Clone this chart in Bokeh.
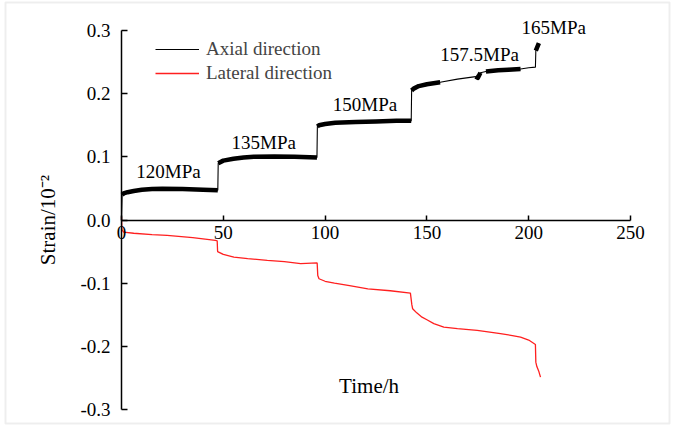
import math
from bokeh.plotting import figure
from bokeh.models import (FixedTicker, Label, Legend, LegendItem, BoxAnnotation)
from bokeh.embed import file_html
from bokeh.resources import INLINE

# ---------------- data ----------------
axial_time = [0, 0.3, 1, 3, 6, 10, 15, 20, 30, 40, 47.3,
              47.5, 50, 55, 60, 65, 75, 85, 96.0,
              96.2, 97, 100, 105, 115, 125, 135, 142.3,
              142.5, 143.5, 146, 150, 156.5, 165, 173.9, 175, 176.3,
              179, 185, 190, 196, 200, 203.3, 203.5, 205]
axial_strain = [0.000, 0.040, 0.042, 0.044, 0.046, 0.048, 0.049, 0.0495, 0.049, 0.048, 0.047,
                0.090, 0.094, 0.097, 0.099, 0.100, 0.1005, 0.100, 0.099,
                0.148, 0.150, 0.152, 0.154, 0.155, 0.156, 0.157, 0.157,
                0.205, 0.208, 0.212, 0.215, 0.218, 0.223, 0.227, 0.225, 0.233,
                0.235, 0.237, 0.238, 0.239, 0.241, 0.242, 0.268, 0.280]
# whether the record segment that starts at each point is a noisy (dense) band
axial_noisy = [False, True, True, True, True, True, True, True, True, True, False,
               True, True, True, True, True, True, True, False,
               True, True, True, True, True, True, True, False,
               True, True, True, True, False, False, True, True, False,
               True, True, True, False, False, False, True, False]

lateral_time = [0, 0.2, 1, 6, 15, 22.4, 35, 46.1, 47.0, 47.2, 50, 55.2, 62, 71.6, 80, 88, 96.1,
                96.4, 97, 100, 104.6, 112, 121, 132, 141.9, 142.6, 143, 145, 147.6, 150,
                153.4, 158.3, 165, 174.7, 180, 186.1, 192, 196, 200, 203.3, 203.5, 204, 205, 205.8]
lateral_strain = [0.005, -0.015, -0.0193, -0.021, -0.023, -0.0245, -0.028, -0.0324, -0.033, -0.050,
                  -0.0545, -0.0588, -0.061, -0.064, -0.066, -0.069, -0.068,
                  -0.088, -0.093, -0.097, -0.100, -0.104, -0.109, -0.112, -0.1158, -0.134, -0.1405,
                  -0.147, -0.1538, -0.158, -0.164, -0.1696, -0.172, -0.1748, -0.177, -0.180, -0.183,
                  -0.1854, -0.190, -0.197, -0.225, -0.232, -0.240, -0.2487]

x_ticks = [0, 50, 100, 150, 200, 250]
y_ticks = [-0.3, -0.2, -0.1, 0.0, 0.1, 0.2, 0.3]
y_tick_labels = ["-0.3", "-0.2", "-0.1", "0.0", "0.1", "0.2", "0.3"]
stress_labels = ["120MPa", "135MPa", "150MPa", "157.5MPa", "165MPa"]

# ---------------- layout constants ----------------
W, H = 673, 427
X0_PX, X250_PX = 121.0, 630.0      # pixel columns of t=0 and t=250
YTOP_PX, YBOT_PX = 30.0, 409.0     # pixel rows of strain 0.3 and -0.3
sx = (X250_PX - X0_PX) / 250.0
sy = (YBOT_PX - YTOP_PX) / 0.6
y0_px = (YTOP_PX + YBOT_PX) / 2.0
x_start, x_end = -X0_PX / sx, (W - X0_PX) / sx
y_end, y_start = y0_px / sy, -(H - y0_px) / sy

stress_label_time = [23.1, 69.9, 119.6, 175.9, 212.3]
stress_label_strain = [0.0775, 0.1234, 0.1832, 0.2623, 0.305]

FONT = "Liberation Serif"

p = figure(width=W, height=H, x_range=(x_start, x_end), y_range=(y_start, y_end),
           output_backend="svg", toolbar_location=None, min_border=0)
p.grid.visible = False
p.outline_line_color = None
p.background_fill_color = "white"
p.border_fill_color = "white"

# x axis through strain = 0
xa = p.xaxis[0]
xa.fixed_location = 0
xa.bounds = (0, 250)
xa.ticker = FixedTicker(ticks=x_ticks)
xa.minor_tick_line_color = None
xa.major_tick_in = 5
xa.major_tick_out = 0
xa.major_label_standoff = 6
xa.axis_line_width = 1.5
xa.major_tick_line_width = 1.5
xa.major_label_text_font = FONT
xa.major_label_text_font_size = "19px"
xa.major_label_text_color = "black"

# y axis through t = 0
ya = p.yaxis[0]
ya.fixed_location = 0
ya.bounds = (-0.3, 0.3)
ya.ticker = FixedTicker(ticks=y_ticks)
ya.major_label_overrides = {t: s for t, s in zip(y_ticks, y_tick_labels)}
ya.minor_tick_line_color = None
ya.major_tick_in = 6
ya.major_tick_out = 0
ya.major_label_standoff = 11
ya.axis_line_width = 1.5
ya.major_tick_line_width = 1.5
ya.major_label_text_font = FONT
ya.major_label_text_font_size = "19px"
ya.major_label_text_color = "black"

# lateral curve
lat_r = p.line(lateral_time, lateral_strain, line_color="#ff1f1f", line_width=1.3)

# axial curve: thin full record + thick noisy bands
ax_r = p.line(axial_time, axial_strain, line_color="black", line_width=1.1)
runs_x, runs_y = [], []
cur_x, cur_y = [], []
for i in range(len(axial_time) - 1):
    if axial_noisy[i]:
        if not cur_x:
            cur_x, cur_y = [axial_time[i]], [axial_strain[i]]
        cur_x.append(axial_time[i + 1])
        cur_y.append(axial_strain[i + 1])
    else:
        if cur_x:
            runs_x.append(cur_x)
            runs_y.append(cur_y)
        cur_x, cur_y = [], []
if cur_x:
    runs_x.append(cur_x)
    runs_y.append(cur_y)
p.multi_line(runs_x, runs_y, line_color="black", line_width=4.5, line_join="round")

# legend (location measured from the frame's bottom-left, in pixels)
legend = Legend(items=[LegendItem(label="Axial direction", renderers=[ax_r]),
                       LegendItem(label="Lateral direction", renderers=[lat_r])],
                location=(155, H - 38 - 46), padding=0, margin=0, spacing=2,
                glyph_width=44, glyph_height=22, label_height=22, label_standoff=7,
                label_text_font=FONT, label_text_font_size="19px",
                border_line_color=None, background_fill_alpha=0)
p.add_layout(legend)

for txt, tx, ty in zip(stress_labels, stress_label_time, stress_label_strain):
    p.add_layout(Label(x=tx, y=ty, text=txt, text_align="center", text_baseline="middle",
                       text_font=FONT, text_font_size="19px", text_color="black"))

p.add_layout(Label(x=121.6, y=-0.2634, text="Time/h", text_align="center", text_baseline="middle",
                   text_font=FONT, text_font_size="21px", text_color="black"))

p.add_layout(Label(x=(47 - X0_PX) / sx, y=0.0, text="Strain/10\u207b\u00b2", angle=math.pi / 2,
                   text_align="center", text_baseline="middle",
                   text_font=FONT, text_font_size="21px", text_color="black"))

# faint frame around the whole picture
p.add_layout(BoxAnnotation(left=5, right=669, top=4, bottom=425,
                           left_units="screen", right_units="screen",
                           top_units="screen", bottom_units="screen",
                           fill_color=None, fill_alpha=0, line_color="#c8c8c8", line_width=2))

open("out.html", "w").write(file_html(p, INLINE))
